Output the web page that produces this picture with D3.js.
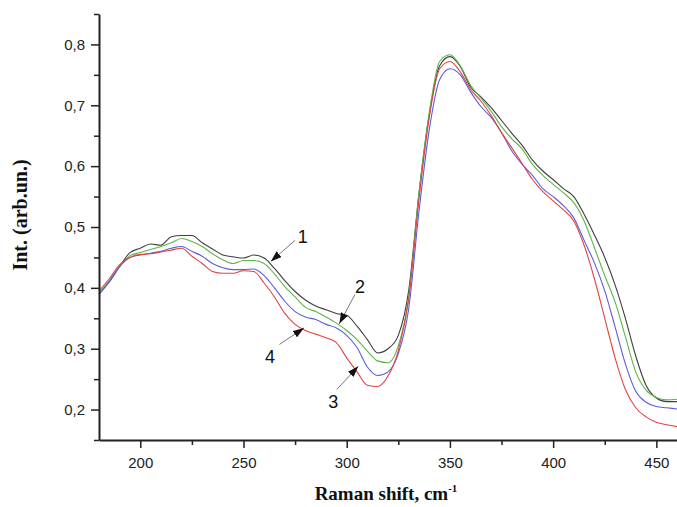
<!DOCTYPE html>
<html>
<head>
<meta charset="utf-8">
<script src="https://cdn.jsdelivr.net/npm/d3@7"></script>
<style>
  body { margin: 0; background: #fff; }
  .tick text { font-family: "Liberation Sans", Arial, sans-serif; font-size: 15px; fill: #222; }
  .axis-title { font-family: "Liberation Serif", "Times New Roman", serif; font-weight: bold; font-size: 19px; fill: #111; }
  .ann { font-family: "Liberation Sans", Arial, sans-serif; font-size: 18px; fill: #111; }
</style>
</head>
<body>
<div id="chart"></div>
<script>
const W = 677, H = 507
const M = { left: 99, right: 0, top: 14, bottom: 67 }

// Raman shift, cm-1
const shift = d3.range(180, 461, 5)

// curve 1 (black)
const s1 = [0.390, 0.410, 0.435, 0.458, 0.465, 0.472, 0.470, 0.484, 0.486, 0.486,
  0.474, 0.464, 0.454, 0.451, 0.449, 0.454, 0.449, 0.432, 0.412, 0.394,
  0.380, 0.370, 0.364, 0.358, 0.355, 0.337, 0.315, 0.293, 0.300, 0.322,
  0.395, 0.555, 0.685, 0.765, 0.780, 0.764, 0.730, 0.714, 0.696, 0.675,
  0.654, 0.634, 0.610, 0.592, 0.578, 0.563, 0.550, 0.521, 0.487, 0.450,
  0.405, 0.350, 0.288, 0.240, 0.219, 0.213, 0.213]
// curve 2 (green)
const s2 = [0.392, 0.412, 0.435, 0.453, 0.458, 0.463, 0.468, 0.474, 0.481, 0.476,
  0.468, 0.456, 0.446, 0.440, 0.445, 0.445, 0.440, 0.423, 0.402, 0.385,
  0.368, 0.361, 0.352, 0.342, 0.330, 0.315, 0.296, 0.280, 0.277, 0.305,
  0.385, 0.555, 0.688, 0.772, 0.783, 0.765, 0.733, 0.712, 0.690, 0.665,
  0.645, 0.628, 0.603, 0.585, 0.570, 0.556, 0.540, 0.510, 0.466, 0.420,
  0.377, 0.320, 0.262, 0.232, 0.220, 0.216, 0.217]
// curve 3 (blue)
const s3 = [0.389, 0.410, 0.435, 0.450, 0.454, 0.457, 0.460, 0.465, 0.468, 0.460,
  0.452, 0.440, 0.433, 0.430, 0.430, 0.431, 0.420, 0.400, 0.378, 0.361,
  0.352, 0.348, 0.340, 0.334, 0.322, 0.302, 0.270, 0.256, 0.262, 0.292,
  0.365, 0.525, 0.660, 0.742, 0.760, 0.750, 0.722, 0.698, 0.680, 0.655,
  0.625, 0.603, 0.585, 0.563, 0.550, 0.535, 0.515, 0.478, 0.441, 0.395,
  0.336, 0.275, 0.230, 0.212, 0.205, 0.203, 0.201]
// curve 4 (red)
const s4 = [0.395, 0.415, 0.438, 0.450, 0.455, 0.456, 0.459, 0.462, 0.465, 0.452,
  0.440, 0.427, 0.424, 0.424, 0.428, 0.427, 0.408, 0.385, 0.358, 0.340,
  0.330, 0.324, 0.318, 0.310, 0.285, 0.262, 0.240, 0.238, 0.255, 0.297,
  0.380, 0.545, 0.680, 0.760, 0.772, 0.755, 0.726, 0.707, 0.683, 0.655,
  0.630, 0.604, 0.578, 0.558, 0.543, 0.528, 0.510, 0.470, 0.415, 0.350,
  0.285, 0.233, 0.203, 0.188, 0.179, 0.175, 0.172]

const series = [
  { name: '1', values: s1, color: '#3f3f3f' },
  { name: '2', values: s2, color: '#5cb546' },
  { name: '3', values: s3, color: '#5c5ce0' },
  { name: '4', values: s4, color: '#e04444' }
]

const xTicks = [200, 250, 300, 350, 400, 450]
const xMinor = [225, 275, 325, 375, 425]
const yTicks = [0.2, 0.3, 0.4, 0.5, 0.6, 0.7, 0.8]
const yMinor = [0.15, 0.25, 0.35, 0.45, 0.55, 0.65, 0.75, 0.85]

// labels with arrows, in data units: label pos, arrow start, arrow tip
const annLabels = ['1', '2', '3', '4']
const annText = [[278.7, 0.485], [306.5, 0.4025], [293.5, 0.2136], [262.8, 0.2875]]
const annFrom = [[275.0, 0.478], [304.0, 0.389], [295.2, 0.233], [267.4, 0.307]]
const annTo = [[263.2, 0.4435], [296.4, 0.341], [305.6, 0.271], [279.3, 0.334]]

const x = d3.scaleLinear().domain([180, 460]).range([M.left, W - M.right])
const y = d3.scaleLinear().domain([0.15, 0.85]).range([H - M.bottom, M.top])
const fmt = d => d3.format('.1f')(d).replace('.', ',')

const svg = d3.select('#chart').append('svg')
  .attr('width', W).attr('height', H)
  .style('display', 'block')

svg.append('defs').append('marker')
  .attr('id', 'arr').attr('viewBox', '0 -4 11 8').attr('refX', 11).attr('refY', 0)
  .attr('markerWidth', 11).attr('markerHeight', 8).attr('markerUnits', 'userSpaceOnUse')
  .attr('orient', 'auto')
  .append('path').attr('d', 'M0,-3.8L11,0L0,3.8Z').attr('fill', '#111')

// curves
const line = d3.line().curve(d3.curveMonotoneX).x((d, i) => x(shift[i])).y(d => y(d))
series.forEach(s => {
  svg.append('path')
    .attr('d', line(s.values))
    .attr('fill', 'none')
    .attr('stroke', s.color)
    .attr('stroke-width', 1.1)
    .attr('stroke-linejoin', 'round')
})

// minor ticks
const xMinorG = svg.append('g').attr('transform', `translate(0,${H - M.bottom})`)
  .call(d3.axisBottom(x).tickValues(xMinor).tickSize(5).tickFormat(''))
const yMinorG = svg.append('g').attr('transform', `translate(${M.left},0)`)
  .call(d3.axisLeft(y).tickValues(yMinor).tickSize(5).tickFormat(''))
;[xMinorG, yMinorG].forEach(g => {
  g.select('.domain').remove()
  g.selectAll('line').attr('stroke', '#222').attr('stroke-width', 1.5)
})

// main axes
const xAxis = svg.append('g').attr('transform', `translate(0,${H - M.bottom})`)
  .call(d3.axisBottom(x).tickValues(xTicks).tickSize(8).tickSizeOuter(0).tickPadding(9))
const yAxis = svg.append('g').attr('transform', `translate(${M.left},0)`)
  .call(d3.axisLeft(y).tickValues(yTicks).tickSize(8).tickSizeOuter(0).tickPadding(6).tickFormat(fmt))
;[xAxis, yAxis].forEach(g => {
  g.select('.domain').attr('stroke', '#222').attr('stroke-width', 2)
  g.selectAll('.tick line').attr('stroke', '#222').attr('stroke-width', 1.5)
  g.selectAll('text').attr('font-family', null).attr('font-size', null)
})

// axis titles
svg.append('text').attr('class', 'axis-title')
  .attr('transform', `translate(27,215) rotate(-90)`)
  .attr('text-anchor', 'middle')
  .style('font-size', '20px')
  .text('Int. (arb.un.)')

const xt = svg.append('text').attr('class', 'axis-title')
  .attr('x', 386).attr('y', 500)
  .attr('text-anchor', 'middle')
xt.append('tspan').text('Raman shift, cm')
xt.append('tspan').attr('dy', -8).attr('font-size', 11).text('-1')

// annotations
annLabels.forEach((lab, i) => {
  svg.append('line')
    .attr('x1', x(annFrom[i][0])).attr('y1', y(annFrom[i][1]))
    .attr('x2', x(annTo[i][0])).attr('y2', y(annTo[i][1]))
    .attr('stroke', '#777').attr('stroke-width', 1)
    .attr('marker-end', 'url(#arr)')
  svg.append('text').attr('class', 'ann')
    .attr('x', x(annText[i][0])).attr('y', y(annText[i][1]))
    .attr('dy', '0.36em').attr('text-anchor', 'middle')
    .text(lab)
})
</script>
</body>
</html>
